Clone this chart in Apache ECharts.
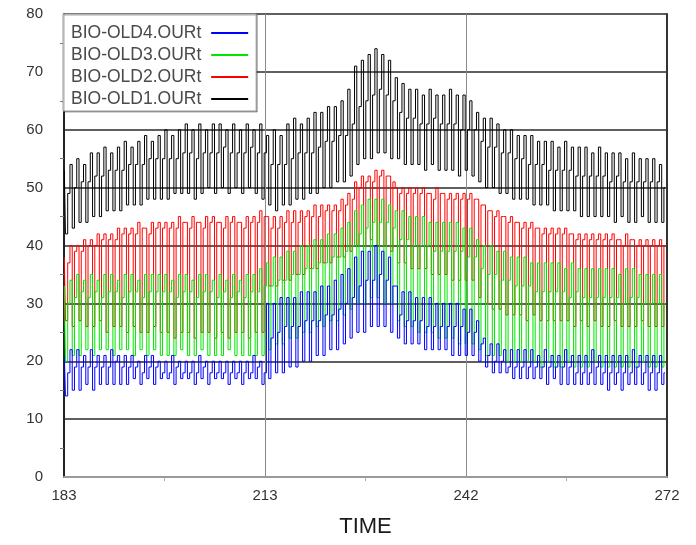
<!DOCTYPE html>
<html>
<head>
<meta charset="utf-8">
<script src="https://cdn.jsdelivr.net/npm/echarts@6/dist/echarts.min.js"></script>
<style>
  html, body { margin: 0; padding: 0; background: #fff; }
  #chart { width: 696px; height: 545px; }
</style>
</head>
<body>
<div id="chart"></div>
<script>
// Time axis: day of year
const firstDay = 183;
const lastDay = 272;
const timeTicks = [183, 213, 242, 272];

const names = ['BIO-OLD1.OURt', 'BIO-OLD2.OURt', 'BIO-OLD3.OURt', 'BIO-OLD4.OURt'];

// Per-day readings for days 183..271 of each OURt signal:
//   Peak  - daily maximum
//   Low   - daily minimum
//   Level - level the signal holds between the minimum and the next maximum
const old1Peak = [
  53, 54, 55, 54, 56, 56, 57, 56, 57, 58, 57, 58, 59, 58, 59,
  60, 59, 60, 61, 60, 61, 60, 61, 61, 60, 61, 60, 61, 60, 61,
  59, 60, 59, 61, 62, 61, 62, 63, 63, 64, 64, 65,
  67, 71, 72, 73, 74, 73, 72,
  69, 68, 67, 67, 66, 67, 66, 66, 67, 66, 66, 65,
  63, 62, 62, 61, 60, 60, 59, 59, 59, 58, 58, 58, 57, 58, 57, 57, 57, 56, 57, 56, 56, 56, 55, 56, 55, 55, 55, 54
];
const old1Low = [
  42, 43, 44, 44, 45, 45, 46, 46, 46, 47, 47, 47, 48, 48, 48,
  48, 49, 49, 49, 48, 49, 50, 49, 50, 49, 50, 49, 50, 49, 48,
  47, 46, 47, 47, 48, 48, 49, 49, 50, 50, 51, 51,
  52, 54, 55, 55, 56, 56, 55,
  55, 54, 54, 54, 53, 54, 53, 53, 53, 52, 53, 52,
  51, 50, 50, 49, 49, 48, 48, 48, 47, 47, 47, 46, 46, 46, 46, 45, 45, 45, 45, 45, 44, 45, 44, 44, 45, 44, 44, 44
];
const old1Level = [
  49, 50, 51, 51, 52, 52, 53, 53, 53, 54, 54, 54, 55, 55, 55,
  55, 55, 56, 56, 55, 56, 56, 56, 57, 56, 56, 56, 57, 56, 56,
  54, 54, 54, 55, 56, 56, 56, 57, 58, 58, 59, 59,
  61, 64, 65, 66, 67, 66, 65,
  63, 62, 62, 61, 61, 62, 61, 61, 61, 60, 60, 60,
  58, 57, 57, 56, 56, 55, 55, 54, 54, 54, 53, 53, 53, 53, 52, 52, 52, 52, 52, 51, 52, 51, 51, 51, 51, 51, 51, 50
];

const old2Peak = [
  38, 40, 40, 41, 41, 42, 42, 42, 43, 43, 43, 44, 43, 44, 44,
  44, 44, 45, 44, 45, 44, 45, 45, 44, 45, 45, 44, 45, 45, 46,
  45, 45, 45, 46, 46, 46, 46, 47, 47, 47, 47, 48,
  49, 51, 52, 52, 53, 53, 52,
  50, 50, 50, 50, 50, 49, 50, 49, 49, 49, 49, 49,
  48, 47, 46, 46, 45, 45, 44, 44, 44, 43, 43, 43, 43, 43, 42, 42, 42, 42, 42, 42, 42, 41, 42, 41, 41, 41, 41, 41
];
const old2Low = [
  27, 26, 27, 26, 26, 27, 25, 26, 26, 25, 26, 25, 25, 26, 25,
  25, 24, 25, 25, 24, 25, 25, 24, 25, 24, 25, 25, 24, 25, 25,
  33, 33, 34, 34, 35, 35, 36, 36, 37, 37, 38, 38,
  39, 40, 40, 41, 40, 40, 39,
  37, 37, 36, 36, 36, 35, 35, 35, 34, 34, 34, 34,
  31, 30, 29, 29, 28, 28, 28, 27, 28, 27, 27, 27, 27, 27, 26, 27, 26, 27, 26, 26, 27, 26, 26, 26, 27, 26, 26, 26
];
const old2Level = [
  37, 39, 39, 40, 40, 41, 41, 41, 42, 42, 42, 43, 42, 43, 43,
  43, 43, 44, 43, 44, 43, 44, 44, 43, 44, 44, 43, 44, 44, 45,
  43, 43, 44, 44, 44, 45, 45, 45, 46, 46, 46, 47,
  48, 50, 51, 51, 52, 52, 51,
  49, 49, 49, 49, 49, 48, 49, 48, 48, 48, 48, 48,
  47, 46, 45, 45, 44, 44, 43, 43, 43, 42, 42, 42, 42, 42, 41, 41, 41, 41, 41, 41, 41, 40, 41, 40, 40, 40, 40, 40
];

const old3Peak = [
  33, 34, 35, 34, 35, 34, 35, 35, 34, 35, 35, 34, 35, 35, 35,
  35, 34, 35, 35, 34, 35, 35, 34, 35, 34, 35, 34, 35, 35, 36,
  37, 38, 38, 39, 39, 40, 40, 41, 41, 42, 42, 43,
  44, 46, 47, 48, 48, 48, 47,
  46, 46, 45, 45, 45, 44, 44, 44, 44, 44, 43, 43,
  41, 40, 40, 39, 39, 38, 38, 38, 37, 37, 37, 37, 37, 36, 37, 36, 36, 36, 36, 36, 36, 35, 36, 36, 35, 35, 35, 35
];
const old3Low = [
  20, 21, 21, 22, 21, 22, 22, 21, 22, 22, 21, 22, 21, 22, 21,
  21, 21, 22, 21, 21, 22, 21, 21, 21, 22, 21, 21, 21, 21, 21,
  22, 23, 23, 24, 24, 25, 25, 26, 26, 27, 27, 28,
  29, 30, 30, 31, 31, 30, 30,
  27, 26, 26, 25, 25, 25, 24, 24, 24, 23, 23, 23,
  22, 21, 21, 21, 20, 20, 20, 20, 20, 19, 20, 19, 19, 20, 19, 19, 19, 20, 19, 19, 19, 19, 19, 19, 20, 19, 19, 19
];
const old3Level = [
  30, 31, 32, 31, 32, 31, 32, 32, 31, 32, 32, 31, 32, 32, 32,
  32, 31, 32, 32, 31, 32, 32, 31, 32, 31, 32, 31, 32, 32, 33,
  33, 34, 34, 35, 35, 36, 36, 37, 37, 38, 38, 39,
  40, 42, 43, 44, 44, 44, 43,
  41, 41, 40, 40, 40, 39, 39, 39, 39, 39, 38, 38,
  36, 35, 35, 34, 34, 33, 33, 33, 32, 32, 32, 32, 32, 31, 32, 31, 31, 31, 31, 31, 31, 30, 31, 31, 30, 30, 30, 30
];

const old4Peak = [
  21, 22, 22, 21, 22, 21, 21, 22, 21, 21, 21, 20, 21, 21, 20,
  20, 21, 20, 20, 20, 21, 20, 20, 20, 20, 20, 20, 20, 21, 20,
  30, 30, 31, 31, 31, 32, 32, 32, 33, 33, 34, 35,
  36, 38, 39, 39, 40, 39, 38,
  33, 32, 32, 31, 31, 31, 30, 30, 30, 30, 29, 29,
  27, 24, 23, 23, 22, 22, 22, 22, 22, 21, 22, 21, 21, 22, 21, 21, 21, 22, 21, 21, 21, 21, 21, 22, 21, 21, 21, 21
];
const old4Low = [
  14, 15, 15, 16, 15, 16, 16, 16, 16, 16, 17, 16, 17, 16, 17,
  17, 16, 17, 17, 16, 17, 16, 17, 17, 16, 17, 16, 17, 17, 16,
  17, 18, 18, 19, 19, 20, 20, 21, 21, 22, 22, 23,
  24, 25, 25, 26, 26, 26, 25,
  24, 23, 23, 23, 22, 22, 22, 22, 21, 21, 21, 21,
  20, 19, 18, 18, 18, 17, 17, 17, 17, 17, 16, 17, 16, 16, 16, 16, 16, 16, 16, 15, 16, 15, 16, 16, 16, 15, 15, 16
];
const old4Level = [
  18, 19, 19, 19, 19, 19, 19, 20, 19, 19, 19, 18, 19, 19, 18,
  18, 19, 18, 18, 18, 19, 18, 18, 18, 18, 18, 18, 18, 19, 18,
  24, 25, 26, 26, 26, 27, 27, 27, 28, 28, 29, 30,
  31, 33, 34, 34, 35, 34, 33,
  28, 27, 27, 27, 26, 26, 26, 26, 26, 26, 25, 25,
  23, 21, 20, 20, 19, 19, 19, 19, 19, 19, 19, 19, 19, 19, 18, 18, 18, 19, 18, 18, 18, 18, 18, 19, 18, 18, 18, 18
];

// One day of signal in three stages: maximum, minimum, then the holding level.
function dailyTrace(peaks, lows, levels) {
  const pts = [];
  for (let i = 0; i < peaks.length; i++) {
    const d = firstDay + i;
    pts.push([d + 0.05, peaks[i]]);
    pts.push([d + 0.38, lows[i]]);
    pts.push([d + 0.71, levels[i]]);
  }
  return pts;
}

const traces = [
  { name: names[0], color: '#000000', data: dailyTrace(old1Peak, old1Low, old1Level) },
  { name: names[1], color: '#ff0000', data: dailyTrace(old2Peak, old2Low, old2Level) },
  { name: names[2], color: '#00e600', data: dailyTrace(old3Peak, old3Low, old3Level) },
  { name: names[3], color: '#0000ff', data: dailyTrace(old4Peak, old4Low, old4Level) }
];

const chart = echarts.init(document.getElementById('chart'), null, { renderer: 'canvas' });
const fontFamily = 'Arial, "Liberation Sans", sans-serif';
const span = lastDay - firstDay;

chart.setOption({
  backgroundColor: '#ffffff',
  animation: false,
  grid: { left: 64, right: 29, top: 14, bottom: 68 },
  legend: {
    orient: 'vertical',
    left: 63,
    top: 14,
    align: 'right',
    data: [names[3], names[2], names[1], names[0]],
    formatter: n => n + ' ',
    icon: 'rect',
    itemWidth: 37,
    itemHeight: 2,
    itemGap: 4,
    padding: [10, 8, 3, 8],
    backgroundColor: '#ffffff',
    borderColor: '#9a9a9a',
    borderWidth: 1,
    shadowColor: 'rgba(0,0,0,0.35)',
    shadowOffsetX: 1,
    shadowOffsetY: 1,
    textStyle: { fontFamily: fontFamily, fontSize: 17.5, lineHeight: 17.5, color: '#4a4a4a' }
  },
  xAxis: [
    {
      type: 'value',
      min: firstDay,
      max: lastDay,
      interval: span / 3,
      name: 'TIME',
      nameLocation: 'middle',
      nameGap: 39,
      nameTextStyle: { fontFamily: fontFamily, fontSize: 22, color: '#1a1a1a' },
      axisLine: { show: true, lineStyle: { color: '#222', width: 2 } },
      axisTick: { show: false },
      minorTick: { show: true, splitNumber: 2, length: 4, lineStyle: { color: '#aaa' } },
      axisLabel: {
        margin: 11,
        fontFamily: fontFamily,
        fontSize: 15,
        color: '#333',
        formatter: v => String(timeTicks.reduce((a, b) => Math.abs(b - v) < Math.abs(a - v) ? b : a))
      },
      splitLine: { show: true, lineStyle: { color: '#8a8a8a', width: 1 } }
    },
    {
      type: 'value',
      position: 'top',
      min: firstDay,
      max: lastDay,
      axisLine: { show: true, lineStyle: { color: '#9a9a9a', width: 2 } },
      axisTick: { show: false },
      axisLabel: { show: false },
      splitLine: { show: false }
    }
  ],
  yAxis: [
    {
      type: 'value',
      min: 0,
      max: 80,
      interval: 10,
      axisLine: { show: true, lineStyle: { color: '#222', width: 2 } },
      axisTick: { show: false },
      minorTick: { show: true, splitNumber: 2, length: 4, lineStyle: { color: '#777' } },
      axisLabel: { margin: 21, fontFamily: fontFamily, fontSize: 15, color: '#333' },
      splitLine: { show: true, lineStyle: { color: '#2a2a2a', width: 1.5 } }
    },
    {
      type: 'value',
      position: 'right',
      min: 0,
      max: 80,
      axisLine: { show: true, lineStyle: { color: '#333', width: 2 } },
      axisTick: { show: false },
      axisLabel: { show: false },
      splitLine: { show: false }
    }
  ],
  series: traces.map(t => ({
    name: t.name,
    type: 'line',
    step: 'middle',
    data: t.data,
    showSymbol: false,
    symbol: 'none',
    color: t.color,
    lineStyle: { width: 1, color: t.color },
    emphasis: { disabled: true },
    z: 2
  }))
});
</script>
</body>
</html>
